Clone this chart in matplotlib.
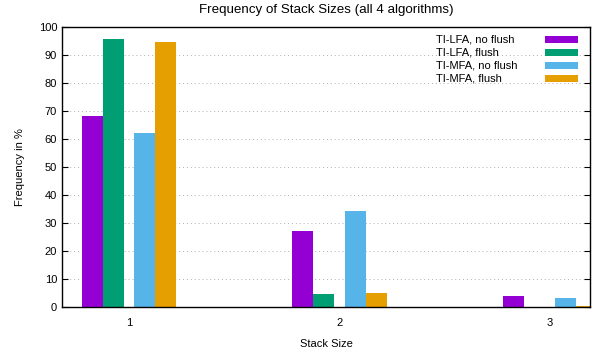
import numpy as np
import matplotlib.pyplot as plt
from matplotlib.patches import Rectangle

plt.rcParams['font.family'] = ['Liberation Sans', 'DejaVu Sans']
plt.rcParams['font.size'] = 8

# stack size categories and frequency (%) per algorithm
stack_sizes = [1, 2, 3]
labels = ['TI-LFA, no flush', 'TI-LFA, flush', 'TI-MFA, no flush', 'TI-MFA, flush']
lfa_noflush = [68.3, 27.2, 3.8]
lfa_flush = [95.6, 4.6, 0.0]
mfa_noflush = [62.3, 34.3, 3.1]
mfa_flush = [94.6, 4.9, 0.4]
colors = ['#9400d3', '#009e73', '#56b4e9', '#e69f00']

series = [lfa_noflush, lfa_flush, mfa_noflush, mfa_flush]
offsets = [-0.175, -0.075, 0.075, 0.175]
width = 0.1

fig = plt.figure(figsize=(5.97, 3.54), dpi=100)
ax = fig.add_axes([62/597, 1 - 307/354, (590-62)/597, (307-27)/354])

x = np.array(stack_sizes, dtype=float)
for vals, off, c in zip(series, offsets, colors):
    ax.bar(x + off, vals, width=width, color=c, zorder=2)

ax.set_xlim(0.682, 3.19)
ax.set_ylim(0, 100)
ax.set_xticks(stack_sizes)
ax.set_yticks(np.arange(0, 101, 10))
ax.tick_params(axis='x', length=0, pad=8)
ax.tick_params(axis='y', direction='in', length=4, right=True, width=0.8)
ax.grid(axis='y', linestyle=(0, (1, 3)), color='#b0b0b0', linewidth=0.7, zorder=0)
for s in ax.spines.values():
    s.set_linewidth(1.0)
    s.set_zorder(3)

ax.set_title('Frequency of Stack Sizes (all 4 algorithms)', pad=10)
ax.set_xlabel('Stack Size', labelpad=8)
ax.set_ylabel('Frequency in %', labelpad=10)

# gnuplot-style key: left-justified text, sample box on the right
tr = ax.transAxes
ax.add_patch(Rectangle((0.702, 0.785), 0.28, 0.19, transform=tr,
                       facecolor='white', edgecolor='none', zorder=1))
for i, (lab, c) in enumerate(zip(labels, colors)):
    yc = 0.954 - i * 0.0465
    ax.text(0.708, yc, lab, transform=tr, ha='left', va='center', zorder=4)
    ax.add_patch(Rectangle((0.915, yc - 0.0125), 0.0625, 0.025, transform=tr,
                           facecolor=c, edgecolor='none', zorder=4))

fig.savefig('out.png', dpi=100)
